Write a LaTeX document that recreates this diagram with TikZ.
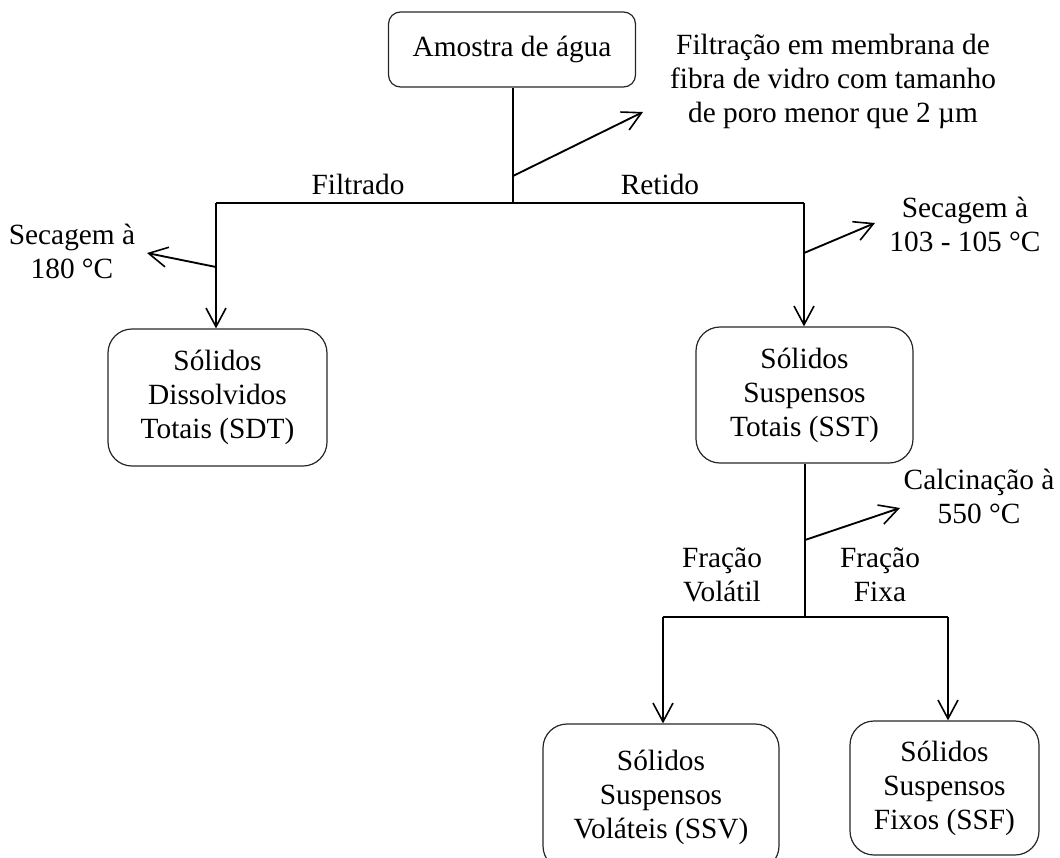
\documentclass[tikz,border=0pt]{standalone}
\usepackage{fontspec}
\setmainfont{Liberation Serif}
\usetikzlibrary{arrows.meta}
\begin{document}
\begin{tikzpicture}[x=0.75pt,y=-0.75pt,
  txt/.style={font=\fontsize{22}{25.5}\selectfont, align=center, inner sep=0pt},
  box/.style={txt, draw=black!85, line width=0.9pt, rounded corners=18pt},
  link/.style={line width=1.4pt},
  flow/.style={link, -{Straight Barb[length=14pt, width=15pt, line width=1.2pt]}}]
\useasboundingbox (0,0) rectangle (1060,857);

% boxes
\node[box, rounded corners=9pt, minimum width=247pt*0.75, minimum height=75pt*0.75] (amostra) at (512,49.5) {Amostra de água};
\node[box, minimum width=219pt*0.75, minimum height=137pt*0.75] (sdt) at (217.5,397.5) {Sólidos\\Dissolvidos\\Totais (SDT)};
\node[box, minimum width=217pt*0.75, minimum height=136pt*0.75] (sst) at (804.5,395) {Sólidos\\Suspensos\\Totais (SST)};
\node[box, minimum width=236pt*0.75, minimum height=146pt*0.75] (ssv) at (661,797) {Sólidos\\Suspensos\\Voláteis (SSV)};
\node[box, minimum width=189pt*0.75, minimum height=134pt*0.75] (ssf) at (944.5,788) {Sólidos\\Suspensos\\Fixos (SSF)};

% labels
\node[txt] (filtracao) at (833,81) {Filtração em membrana de\\fibra de vidro com tamanho\\de poro menor que 2 µm};
\node[txt] (filtrado) at (358,184) {Filtrado};
\node[txt] (retido) at (660,184) {Retido};
\node[txt] (sec180) at (72,251) {Secagem à\\180 °C};
\node[txt] (sec105) at (965,224) {Secagem à\\103 - 105 °C};
\node[txt] (calc) at (979,496) {Calcinação à\\550 °C};
\node[txt] (volatil) at (722,575) {Fração\\Volátil};
\node[txt] (fixa) at (880,575) {Fração\\Fixa};

% junction points
\coordinate (j0) at (513,203);
\coordinate (jl) at (216,203);
\coordinate (jr) at (804,203);
\coordinate (b0) at (513,176);
\coordinate (t0) at (643,112);
\coordinate (bl) at (216,267);
\coordinate (tl) at (147,253);
\coordinate (br) at (804,253);
\coordinate (tr) at (875,223);
\coordinate (j1) at (805,617);
\coordinate (fl) at (663,617);
\coordinate (fr) at (948,617);
\coordinate (b1) at (805,540);
\coordinate (t1) at (900,508);

% connectors
\draw[link] (amostra.south -| j0) -- (j0);
\draw[link] (jl) -- (jr);
\draw[flow] (b0) -- (t0);
\draw[flow] (jl) -- (jl |- sdt.north);
\draw[flow] (bl) -- (tl);
\draw[flow] (jr) -- (jr |- sst.north);
\draw[flow] (br) -- (tr);
\draw[link] (sst.south -| j1) -- (j1);
\draw[link] (fl) -- (fr);
\draw[flow] (b1) -- (t1);
\draw[flow] (fl) -- (fl |- ssv.north);
\draw[flow] (fr) -- (fr |- ssf.north);
\end{tikzpicture}
\end{document}
